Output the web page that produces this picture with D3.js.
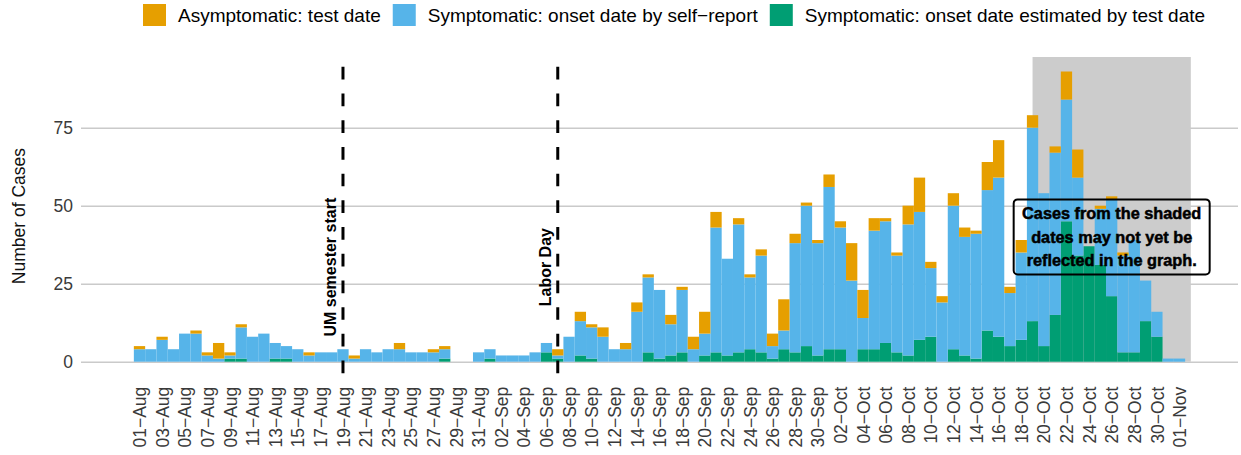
<!DOCTYPE html>
<html lang="en">
<head>
    <meta charset="UTF-8">
    <title>Daily cases by onset / test date</title>
    <script src="https://d3js.org/d3.v7.min.js"></script>
    <style>
        body {
            margin: 0;
            background: #ffffff;
            font-family: "Liberation Sans", Arial, Helvetica, sans-serif;
        }
        .tick text {
            fill: #3a3a3a;
            font-size: 17.5px;
        }
        .y-axis .tick line {
            stroke: #cacaca;
            stroke-width: 1.5;
        }
        .legend-label {
            font-size: 19px;
            fill: #000;
        }
        .event-label {
            font-size: 16px;
            font-weight: bold;
            fill: #000;
        }
        .note-text {
            font-size: 16.3px;
            font-weight: bold;
            fill: #000;
        }
    </style>
</head>
<body>
    <svg id="chart" width="1241" height="455"></svg>

    <script>
        // daily counts, 01-Aug-2020 .. 01-Nov-2020
        const firstDay = "2020-08-01";
        const asymptomatic = [
            1, 0, 1, 0, 0, 1, 1, 5, 1, 1, 0, 0, 0, 0, 0, 1, 0, 0, 0, 1, 0, 0, 0, 2, 0, 0, 1, 1, 0, 0, 0,
            0, 0, 0, 0, 0, 0, 2, 0, 3, 1, 3, 0, 2, 3, 1, 0, 3, 1, 4, 7, 5, 0, 2, 1, 2, 4, 10, 3, 1, 1,
            4, 2, 12, 9, 4, 1, 1, 6, 11, 2, 2, 4, 3, 1, 9, 12, 2, 4, 4, 0, 2, 9, 9, 0, 1, 1, 1, 0, 0, 0, 0,
            0
        ];
        const selfReport = [
            4, 4, 7, 4, 9, 9, 2, 1, 1, 10, 8, 9, 5, 4, 4, 2, 3, 3, 4, 1, 4, 3, 4, 4, 3, 3, 3, 3, 0, 0, 3,
            3, 2, 2, 2, 3, 3, 1, 8, 11, 10, 8, 4, 4, 16, 24, 22, 10, 20, 4, 7, 40, 31, 41, 23, 31, 4, 6, 35, 45, 36,
            52, 39, 26, 10, 38, 39, 31, 42, 41, 22, 19, 46, 38, 40, 45, 51, 17, 28, 62, 49, 52, 39, 25, 0, 18, 31, 31, 36, 13, 8, 1,
            1
        ];
        const estimated = [
            0, 0, 0, 0, 0, 0, 0, 0, 1, 1, 0, 0, 1, 1, 0, 0, 0, 0, 0, 0, 0, 0, 0, 0, 0, 0, 0, 1, 0, 0, 0,
            1, 0, 0, 0, 0, 3, 1, 0, 2, 1, 0, 0, 0, 0, 3, 1, 2, 3, 0, 2, 3, 2, 3, 4, 3, 1, 4, 3, 5, 2,
            4, 4, 0, 4, 4, 6, 3, 2, 7, 8, 0, 4, 2, 1, 10, 8, 5, 7, 13, 5, 15, 45, 34, 37, 31, 21, 3, 3, 13, 8, 0,
            0
        ];

        const seriesKeys = ["estimated", "selfReport", "asymptomatic"];
        const legendItems = [
            { key: "asymptomatic", label: "Asymptomatic: test date" },
            { key: "selfReport", label: "Symptomatic: onset date by self\u2212report" },
            { key: "estimated", label: "Symptomatic: onset date estimated by test date" }
        ];
        const colors = { asymptomatic: "#E69F00", selfReport: "#56B4E9", estimated: "#009E73" };

        const yTicks = [0, 25, 50, 75];
        const events = [
            { date: "2020-08-19", label: "UM semester start" },
            { date: "2020-09-07", label: "Labor Day" }
        ];
        const shadeStart = "2020-10-19";
        const shadeEnd = "2020-11-02";
        const noteLines = ["Cases from the shaded", "dates may not yet be", "reflected in the graph."];
        const noteDate = "2020-10-26";
        const noteValue = 40;

        const parse = d3.utcParse("%Y-%m-%d");
        const day0 = parse(firstDay);
        const rows = asymptomatic.map((v, i) => ({
            date: d3.utcDay.offset(day0, i),
            asymptomatic: v,
            selfReport: selfReport[i],
            estimated: estimated[i]
        }));
        const lastDay = rows[rows.length - 1].date;

        const svg = d3.select("#chart");
        const panel = { left: 81, right: 1238 };

        const x = d3.scaleUtc()
            .domain([day0, lastDay])
            .range([139.5, 1179.5]);
        const bw = x(d3.utcDay.offset(day0, 1)) - x(day0);

        const y = d3.scaleLinear()
            .domain([0, 97.65])
            .range([361.7, 57]);

        // gridlines + y labels
        const yAxis = svg.append("g")
            .attr("class", "y-axis")
            .attr("transform", `translate(${panel.left},0)`)
            .call(d3.axisLeft(y).tickValues(yTicks).tickSize(-(panel.right - panel.left)).tickPadding(8));
        yAxis.select(".domain").remove();
        yAxis.selectAll(".tick text").attr("x", -8);

        // shaded recent period
        svg.append("rect")
            .attr("x", x(parse(shadeStart)))
            .attr("y", y(97.65))
            .attr("width", x(parse(shadeEnd)) - x(parse(shadeStart)))
            .attr("height", y(0) - y(97.65))
            .attr("fill", "#cccccc");

        // stacked bars
        const stacked = d3.stack().keys(seriesKeys)(rows);
        svg.append("g")
            .selectAll("g")
            .data(stacked)
            .join("g")
            .attr("fill", s => colors[s.key])
            .selectAll("rect")
            .data(s => s.filter(d => d[1] > d[0]))
            .join("rect")
            .attr("x", d => x(d.data.date) - bw / 2)
            .attr("width", bw)
            .attr("y", d => y(d[1]))
            .attr("height", d => y(d[0]) - y(d[1]));

        // x axis labels, every second day
        const xTicks = rows.filter((d, i) => i % 2 === 0).map(d => d.date);
        const fmt = d3.utcFormat("%d");
        const fmtMon = d3.utcFormat("%b");
        const xAxis = svg.append("g")
            .attr("transform", `translate(0,${y(0)})`)
            .call(d3.axisBottom(x).tickValues(xTicks).tickSize(0)
                .tickFormat(d => fmt(d) + "\u2212" + fmtMon(d)));
        xAxis.select(".domain").remove();
        xAxis.selectAll(".tick text")
            .attr("transform", "rotate(-90)")
            .attr("x", -25)
            .attr("y", 0)
            .attr("dy", "0.35em")
            .style("text-anchor", "end");

        // event lines
        const ev = svg.append("g").selectAll("g").data(events).join("g");
        ev.append("line")
            .attr("x1", d => x(parse(d.date)))
            .attr("x2", d => x(parse(d.date)))
            .attr("y1", y(94.5))
            .attr("y2", y(-4.3))
            .attr("stroke", "#000")
            .attr("stroke-width", 3)
            .attr("stroke-dasharray", "12.7,14");
        ev.append("text")
            .attr("class", "event-label")
            .attr("transform", d => `translate(${x(parse(d.date)) - 12.3},${y(30.3)}) rotate(-90)`)
            .attr("text-anchor", "middle")
            .attr("dy", "0.35em")
            .text(d => d.label);

        // note box
        const nx = x(parse(noteDate));
        const ny = y(noteValue);
        svg.append("rect")
            .attr("x", nx - 98)
            .attr("y", ny - 37.5)
            .attr("width", 196)
            .attr("height", 75)
            .attr("rx", 4)
            .attr("fill", "none")
            .attr("stroke", "#000")
            .attr("stroke-width", 2);
        svg.append("g").selectAll("text")
            .data(noteLines)
            .join("text")
            .attr("class", "note-text")
            .attr("x", nx)
            .attr("y", (d, i) => ny + (i - 1) * 23.5)
            .attr("dy", "0.35em")
            .attr("text-anchor", "middle")
            .attr("stroke", "#000")
            .attr("stroke-width", 0.5)
            .text(d => d);

        // y axis title
        svg.append("text")
            .attr("transform", `translate(18.5,${(y(97.65) + y(-4.3)) / 2}) rotate(-90)`)
            .attr("text-anchor", "middle")
            .attr("dy", "0.35em")
            .attr("font-size", "17.5px")
            .attr("fill", "#111")
            .text("Number of Cases");

        // legend
        const legend = svg.append("g");
        let lx = 143;
        legendItems.forEach(item => {
            legend.append("rect")
                .attr("x", lx)
                .attr("y", 4)
                .attr("width", 23)
                .attr("height", 22)
                .attr("fill", colors[item.key]);
            const t = legend.append("text")
                .attr("class", "legend-label")
                .attr("x", lx + 35)
                .attr("y", 15)
                .attr("dy", "0.35em")
                .text(item.label);
            lx += 35 + t.node().getComputedTextLength() + 12;
        });
    </script>
</body>
</html>
